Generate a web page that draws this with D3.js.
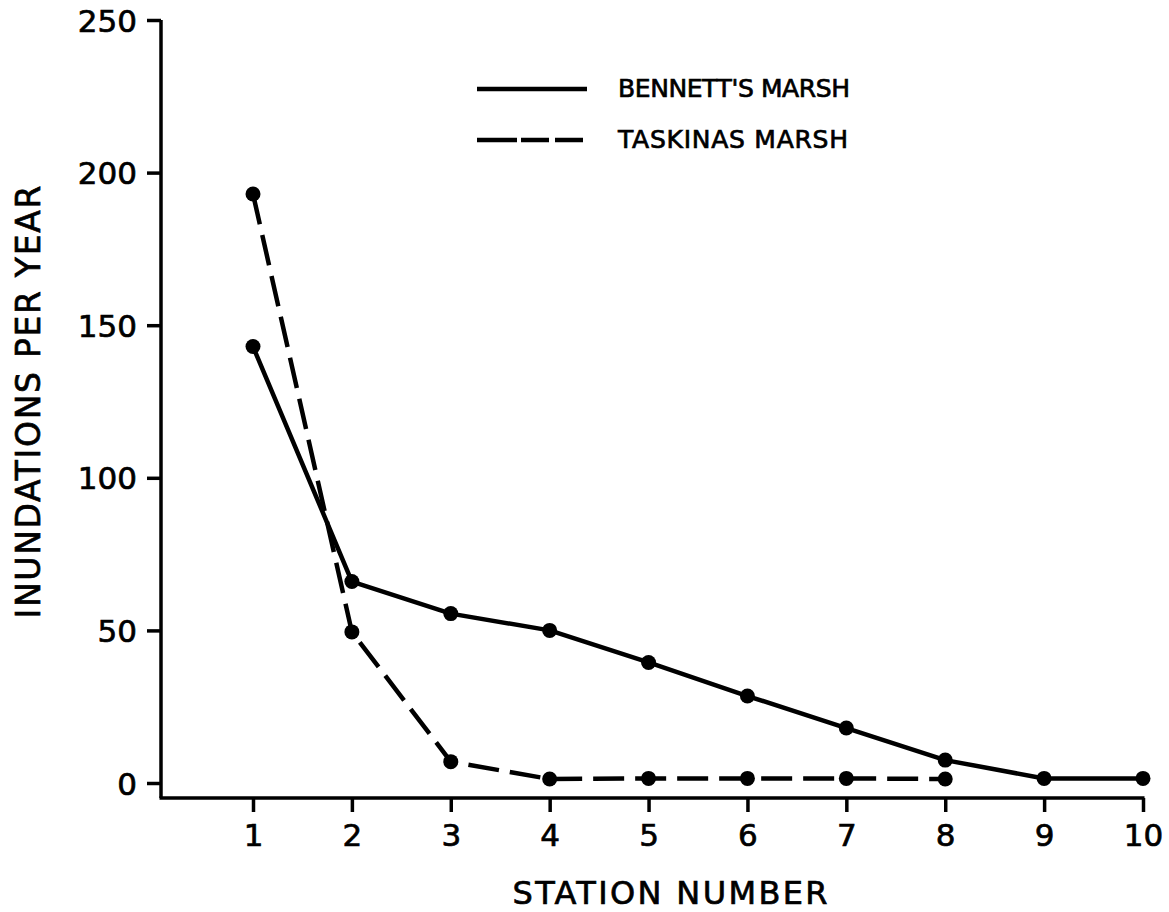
<!DOCTYPE html>
<html><head><meta charset="utf-8">
<script src="https://cdn.jsdelivr.net/npm/d3@7"></script>
<style>body{margin:0;background:#fff}svg{display:block}text{font-family:"DejaVu Sans",sans-serif;fill:#000;stroke:#000;stroke-width:0.7px}</style>
</head><body>
<svg id="c" width="1169" height="912"></svg>
<script>
const stations = [1,2,3,4,5,6,7,8,9,10];
const bennett = [143, 66, 55.5, 50, 39.5, 28.5, 18, 7.5, 1.5, 1.5];
const taskinasStations = [1,2,3,4,5,6,7,8];
const taskinas = [193, 49.5, 7, 1.3, 1.5, 1.5, 1.5, 1.3];
const yTicks = [0,50,100,150,200,250];
const xTicks = [1,2,3,4,5,6,7,8,9,10];
const seriesNames = ["BENNETT'S MARSH","TASKINAS MARSH"];

const svg = d3.select("#c");
const x = d3.scaleLinear().domain([1,10]).range([253,1143]);
const y = d3.scaleLinear().domain([0,250]).range([783,20]);
const axisY = 798, axisX = 161;

// axis lines
svg.append("line").attr("x1",axisX).attr("x2",axisX).attr("y1",y(250)).attr("y2",axisY)
  .attr("stroke","#000").attr("stroke-width",3.5);
svg.append("line").attr("x1",axisX-1.5).attr("x2",x(10)+1.5).attr("y1",axisY).attr("y2",axisY)
  .attr("stroke","#000").attr("stroke-width",3.5);

// y axis ticks
const gy = svg.append("g").attr("transform",`translate(${axisX},0)`)
  .call(d3.axisLeft(y).tickValues(yTicks).tickSize(14).tickPadding(10).tickFormat(d3.format("d")));
gy.select(".domain").remove();
gy.selectAll(".tick line").attr("stroke-width",3.5);
gy.selectAll(".tick text").style("font-size","31px").attr("dy","0.36em");

// x axis ticks
const gx = svg.append("g").attr("transform",`translate(0,${axisY})`)
  .call(d3.axisBottom(x).tickValues(xTicks).tickSize(14).tickPadding(11).tickFormat(d3.format("d")));
gx.select(".domain").remove();
gx.selectAll(".tick line").attr("stroke-width",3.5);
gx.selectAll(".tick text").style("font-size","31px").attr("dy","0.74em");

// axis titles
svg.append("text").attr("x",670).attr("y",904).attr("text-anchor","middle")
  .style("font-size","32px").attr("textLength",315).attr("lengthAdjust","spacing")
  .text("STATION  NUMBER");
svg.append("text").attr("transform","translate(40,402) rotate(-90)").attr("text-anchor","middle")
  .style("font-size","33px").attr("textLength",433).attr("lengthAdjust","spacing")
  .text("INUNDATIONS  PER  YEAR");

// lines
const line = d3.line().x(d=>x(d[0])).y(d=>y(d[1]));
const bData = stations.map((s,i)=>[s,bennett[i]]);
const tData = taskinasStations.map((s,i)=>[s,taskinas[i]]);
svg.append("path").datum(bData).attr("d",line).attr("fill","none")
  .attr("stroke","#000").attr("stroke-width",4.5).attr("stroke-linejoin","round");
svg.append("path").datum(tData).attr("d",line).attr("fill","none")
  .attr("stroke","#000").attr("stroke-width",4.5).attr("stroke-dasharray","31,11");

svg.selectAll(".db").data(bData).enter().append("circle")
  .attr("cx",d=>x(d[0])).attr("cy",d=>y(d[1])).attr("r",7.5).attr("fill","#000");
svg.selectAll(".dt").data(tData).enter().append("circle")
  .attr("cx",d=>x(d[0])).attr("cy",d=>y(d[1])).attr("r",7.5).attr("fill","#000");

// legend
const leg = svg.append("g");
leg.append("line").attr("x1",477).attr("x2",587).attr("y1",89).attr("y2",89)
  .attr("stroke","#000").attr("stroke-width",4.5);
leg.append("line").attr("x1",477).attr("x2",587).attr("y1",140).attr("y2",140)
  .attr("stroke","#000").attr("stroke-width",4.5).attr("stroke-dasharray","40,4,28,6,28");
leg.append("text").attr("x",618).attr("y",97).style("font-size","25px")
  .attr("textLength",232).attr("lengthAdjust","spacing").text(seriesNames[0]);
leg.append("text").attr("x",618).attr("y",148).style("font-size","25px")
  .attr("textLength",230).attr("lengthAdjust","spacing").text(seriesNames[1]);
</script>
</body></html>
